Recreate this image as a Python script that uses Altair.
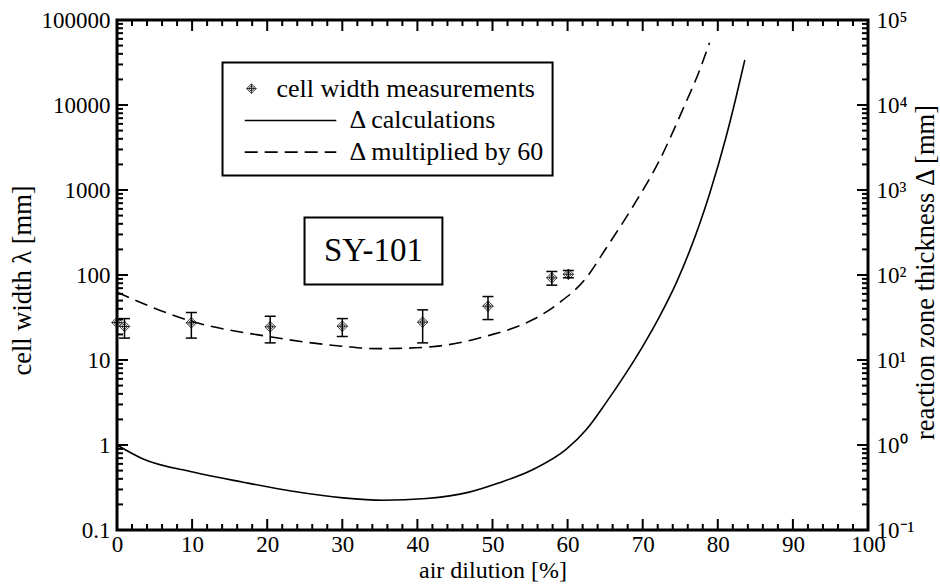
import altair as alt
import pandas as pd

FONT = "Liberation Serif"
W, H = 751, 510

# ---- cell width measurements: air dilution [%] vs cell width [mm]
meas_dil = [0.0, 1.0, 9.9, 20.4, 30.0, 40.7, 49.4, 57.9, 60.1]
meas_cell = [27.6, 24.8, 27.4, 24.6, 25.0, 27.9, 43.0, 92.7, 102.0]

# ---- error bars of the measurements
err_dil = [1.0, 9.9, 20.4, 30.0, 40.7, 49.4, 57.9, 60.1]
err_low = [18.1, 18.1, 15.9, 18.9, 15.9, 29.9, 75.9, 92.7]
err_high = [30.7, 36.2, 32.7, 30.7, 38.9, 55.8, 110.0, 113.0]

# ---- reaction zone thickness Delta (calculations)
calc_dil = [0.0, 3.4, 10.1, 16.8, 23.4, 30.1, 35.4, 41.2, 46.9, 50.9, 55.4,
            59.8, 62.5, 65.1, 67.8, 70.0, 72.2, 74.5, 76.2, 78.9, 81.1, 82.4, 83.6]
calc_delta = [1.0, 0.69, 0.48, 0.365, 0.286, 0.239, 0.224, 0.235, 0.279, 0.359, 0.515,
              0.886, 1.52, 3.13, 7.06, 14.5, 32.0, 82.0, 187.0, 900.0, 4200.0, 12000.0, 34000.0]

# ---- Delta multiplied by 60
mult_dil = [0.0, 4.3, 9.9, 20.3, 30.1, 34.5, 37.6, 43.4, 49.2, 55.4, 58.9,
            62.5, 65.1, 68.7, 72.2, 75.3, 77.6, 78.9]
mult_val = [62.8, 43.0, 28.6, 18.8, 14.5, 13.6, 13.7, 14.8, 19.1, 29.9, 47.1,
            93.0, 205.0, 640.0, 2200.0, 8700.0, 26000.0, 54000.0]

# ---- tick values
x_major = [0, 10, 20, 30, 40, 50, 60, 70, 80, 90, 100]
x_minor = [v for v in range(0, 101, 2) if v % 10 != 0]
y_major = [0.1, 1, 10, 100, 1000, 10000, 100000]
y_minor = [round(k * 10.0 ** e, 6) for e in range(-1, 5) for k in range(2, 10)]

legend_labels = ["cell width measurements", "\u0394 calculations", "\u0394 multiplied by 60"]
tag_label = ["SY-101"]

meas_df = pd.DataFrame({"dil": meas_dil, "val": meas_cell})
err_df = pd.DataFrame({"dil": err_dil, "lo": err_low, "hi": err_high})
calc_df = pd.DataFrame({"dil": calc_dil, "val": calc_delta})
mult_df = pd.DataFrame({"dil": mult_dil, "val": mult_val})

xs = alt.Scale(domain=[0, 100], nice=False, zero=False)
ys = alt.Scale(type="log", domain=[0.1, 100000], nice=False)

common = dict(grid=False, domain=False, ticks=False, tickSize=0,
              labelFont=FONT, labelFontSize=23, labelColor="black",
              labelFlush=False, labelOverlap=False,
              titleFont=FONT, titleFontWeight="normal", titleColor="black")

ax_bottom = alt.Axis(orient="bottom", values=x_major, labelPadding=3,
                     title="air dilution [%]", titleFontSize=24, titlePadding=2, **common)
ax_left = alt.Axis(orient="left", values=y_major, labelPadding=7,
                   labelExpr="format(datum.value, '~g')",
                   title="cell width \u03bb  [mm]", titleFontSize=26.5, titleAngle=270,
                   titleBaseline="middle", titleAnchor="middle", titleX=-95, titleY=260,
                   **common)
ax_right = alt.Axis(orient="right", values=y_major, labelPadding=8,
                    labelExpr="'10' + ['\u207b\u00b9','\u2070','\u00b9','\u00b2','\u00b3','\u2074','\u2075'][round(log(datum.value)/LN10) + 1]",
                    title="reaction zone thickness \u0394  [mm]", titleFontSize=26.5,
                    titleAngle=270, titleBaseline="middle", titleAnchor="middle",
                    titleX=57, titleY=252, **common)

MARKER = ("M0,-1L1,0L0,1L-1,0Z"
          "M-1,0L1,0M0,-1L0,1"
          "M0.45,0A0.45,0.45 0 1,1 -0.45,0A0.45,0.45 0 1,1 0.45,0")


def X(field, axis=None):
    return alt.X(field, type="quantitative", scale=xs, axis=axis)


def Y(field, axis=None):
    return alt.Y(field, type="quantitative", scale=ys, axis=axis)


# ---- inward tick marks on all four sides
xt_major = pd.DataFrame({"v": x_major})
xt_minor = pd.DataFrame({"v": x_minor})
yt_major = pd.DataFrame({"v": y_major})
yt_minor = pd.DataFrame({"v": y_minor})


def xticks(df, length, top):
    y0 = 0 if top else H
    y1 = length if top else H - length
    return alt.Chart(df).mark_rule(color="black", strokeWidth=2).encode(
        x=X("v"), y=alt.value(y0), y2=alt.value(y1))


def yticks(df, length, right):
    x0 = W if right else 0
    x1 = W - length if right else length
    return alt.Chart(df).mark_rule(color="black", strokeWidth=2).encode(
        y=Y("v"), x=alt.value(x0), x2=alt.value(x1))


tick_layers = [
    xticks(xt_major, 11, False), xticks(xt_minor, 6, False),
    xticks(xt_major, 11, True), xticks(xt_minor, 6, True),
    yticks(yt_major, 11, False), yticks(yt_minor, 6, False),
    yticks(yt_major, 11, True), yticks(yt_minor, 6, True),
]

# ---- annotation boxes
legend_box = alt.Chart(pd.DataFrame({"x": [14.05], "x2": [58.0], "y": [1480.0], "y2": [31600.0]})).mark_rect(
    fill="white", stroke="black", strokeWidth=2).encode(
    x=X("x"), x2="x2:Q", y=Y("y"), y2="y2:Q")

tag_box = alt.Chart(pd.DataFrame({"x": [24.97], "x2": [43.33], "y": [77.3], "y2": [474.0]})).mark_rect(
    fill="white", stroke="black", strokeWidth=2).encode(
    x=X("x"), x2="x2:Q", y=Y("y"), y2="y2:Q")

tag_text = alt.Chart(pd.DataFrame({"x": [34.15], "y": [191.0], "t": tag_label})).mark_text(
    font=FONT, fontSize=33, color="black", align="center", baseline="middle").encode(
    x=X("x"), y=Y("y"), text="t:N")

# ---- data
solid = alt.Chart(calc_df).mark_line(color="black", strokeWidth=1.6, interpolate="monotone").encode(
    x=X("dil", ax_bottom), y=Y("val", ax_left))

dashed = alt.Chart(mult_df).mark_line(color="black", strokeWidth=1.6, strokeDash=[13, 7],
                                       interpolate="monotone").encode(
    x=X("dil"), y=Y("val"))

err_rule = alt.Chart(err_df).mark_rule(color="black", strokeWidth=1.5).encode(
    x=X("dil"), y=Y("lo"), y2="hi:Q")

cap_lo = alt.Chart(err_df).mark_tick(orient="horizontal", size=11, thickness=1.5,
                                     color="black", opacity=1).encode(x=X("dil"), y=Y("lo"))
cap_hi = alt.Chart(err_df).mark_tick(orient="horizontal", size=11, thickness=1.5,
                                     color="black", opacity=1).encode(x=X("dil"), y=Y("hi"))

points = alt.Chart(meas_df).mark_point(shape=MARKER, size=110, filled=False, color="black",
                                       strokeWidth=0.8, opacity=1).encode(
    x=X("dil"), y=Y("val", ax_right))

# ---- legend contents
leg_marker = alt.Chart(pd.DataFrame({"x": [17.9], "y": [15600.0]})).mark_point(
    shape=MARKER, size=90, filled=False, color="black", strokeWidth=0.8, opacity=1).encode(
    x=X("x"), y=Y("y"))
leg_solid = alt.Chart(pd.DataFrame({"x": [17.0], "x2": [29.2], "y": [6580.0]})).mark_rule(
    color="black", strokeWidth=1.6).encode(x=X("x"), x2="x2:Q", y=Y("y"))
leg_dash = alt.Chart(pd.DataFrame({"x": [17.0], "x2": [29.2], "y": [2790.0]})).mark_rule(
    color="black", strokeWidth=1.6, strokeDash=[13, 7]).encode(x=X("x"), x2="x2:Q", y=Y("y"))
leg_text = alt.Chart(pd.DataFrame({"x": [21.24, 30.96, 30.96], "y": [15600.0, 6580.0, 2790.0],
                                   "t": legend_labels})).mark_text(
    font=FONT, fontSize=26, color="black", align="left", baseline="middle").encode(
    x=X("x"), y=Y("y"), text="t:N")

chart = alt.layer(
    legend_box, tag_box, tag_text,
    solid, dashed, err_rule, cap_lo, cap_hi, points,
    leg_marker, leg_solid, leg_dash, leg_text,
    *tick_layers,
).resolve_axis(x="independent", y="independent").properties(
    width=W, height=H,
    padding={"left": 117, "top": 20, "right": 72, "bottom": 56},
    autosize=alt.AutoSizeParams(type="none"),
    background="white",
).configure_view(stroke="black", strokeWidth=3)

chart.save("out.html", embed_options={"renderer": "svg", "actions": False})
